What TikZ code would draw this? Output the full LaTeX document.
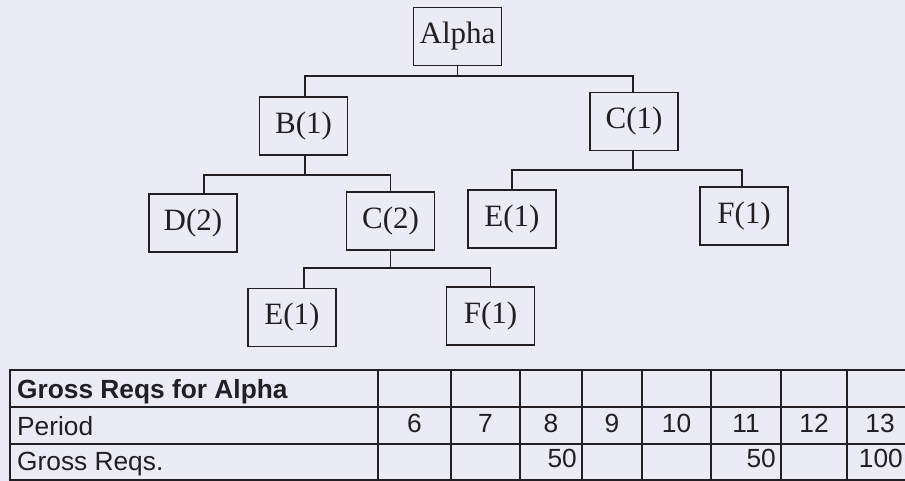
\documentclass[tikz,border=0pt]{standalone}
\usepackage{fontspec}
\setmainfont{Liberation Serif}
\newfontfamily\tabfont{Liberation Sans}
\definecolor{paper}{RGB}{234,235,245}
\definecolor{ink}{RGB}{35,30,35}
\tikzset{
  part/.style={draw=ink, line width=1.7pt, fill=paper, minimum width=88pt,
    minimum height=58pt, inner sep=0pt, text=ink,
    font=\fontsize{31}{36}\selectfont},
  link/.style={draw=ink, line width=1.6pt},
  grid/.style={draw=ink, line width=2.3pt},
  celltext/.style={inner sep=0pt, text=ink, font=\tabfont\fontsize{26.3}{30}\selectfont},
}

\begin{document}

\begin{tikzpicture}[x=1pt,y=-1pt]
  % page and bounds
  \fill[paper] (0,0) rectangle (905,481);
  \useasboundingbox (0,0) rectangle (905,481);
  \clip (0,0) rectangle (905,481);

  % product structure tree
  \node[part] (alpha) at (457.5,36.5) {Alpha};
  \node[part] (b1)    at (303.5,126)  {B(1)};
  \node[part] (c1)    at (634,121.5)  {C(1)};
  \node[part] (d2)    at (193,223)    {D(2)};
  \node[part] (c2)    at (390.5,221)  {C(2)};
  \node[part] (e1a)   at (512,219)    {E(1)};
  \node[part] (f1a)   at (744,216)    {F(1)};
  \node[part] (e1b)   at (292,317.5)  {E(1)};
  \node[part] (f1b)   at (490.5,316)  {F(1)};

  % horizontal bus levels
  \coordinate (busA) at (0,76);
  \coordinate (busB) at (0,175);
  \coordinate (busC) at (0,170);
  \coordinate (busD) at (0,268);

  \draw[link] (alpha.south) -- (alpha.south |- busA) -| ([xshift=1.5pt]b1.north);
  \draw[link] (alpha.south |- busA) -| ([xshift=-1pt]c1.north);
  \draw[link] ([xshift=1.5pt]b1.south) -- ([xshift=1.5pt]b1.south |- busB) -| ([xshift=11pt]d2.north);
  \draw[link] ([xshift=1.5pt]b1.south |- busB) -| (c2.north);
  \draw[link] ([xshift=-1pt]c1.south) -- ([xshift=-1pt]c1.south |- busC) -| (e1a.north);
  \draw[link] ([xshift=-1pt]c1.south |- busC) -| ([xshift=-2pt]f1a.north);
  \draw[link] (c2.south) -- (c2.south |- busD) -| ([xshift=12pt]e1b.north);
  \draw[link] (c2.south |- busD) -| (f1b.north);

  % gross requirements table
  \foreach \y in {370,407,444,480} \draw[grid] (9,\y) -- (915,\y);
  \foreach \x in {10,378,451,520,582,642,711,781,847} \draw[grid] (\x,369) -- (\x,481);

  \node[celltext, anchor=base west, font=\tabfont\bfseries\fontsize{26.3}{30}\selectfont] (hdr) at (17,398) {Gross Reqs for Alpha};
  \node[celltext, anchor=base west] (lblp) at (17,435) {Period};
  \node[celltext, anchor=base west] (lblg) at (17,470) {Gross Reqs.};

  \node[celltext, anchor=base] (p6)  at (414.5,432) {6};
  \node[celltext, anchor=base] (p7)  at (485.5,432) {7};
  \node[celltext, anchor=base] (p8)  at (551,432)   {8};
  \node[celltext, anchor=base] (p9)  at (612,432)   {9};
  \node[celltext, anchor=base] (p10) at (676.5,432) {10};
  \node[celltext, anchor=base] (p11) at (746,432)   {11};
  \node[celltext, anchor=base] (p12) at (814,432)   {12};
  \node[celltext, anchor=base] (p13) at (880,432)   {13};

  \node[celltext, anchor=base east] (g8)  at (577,467) {50};
  \node[celltext, anchor=base east] (g11) at (776,467) {50};
  \node[celltext, anchor=base east] (g13) at (903,467) {100};
\end{tikzpicture}

\end{document}
